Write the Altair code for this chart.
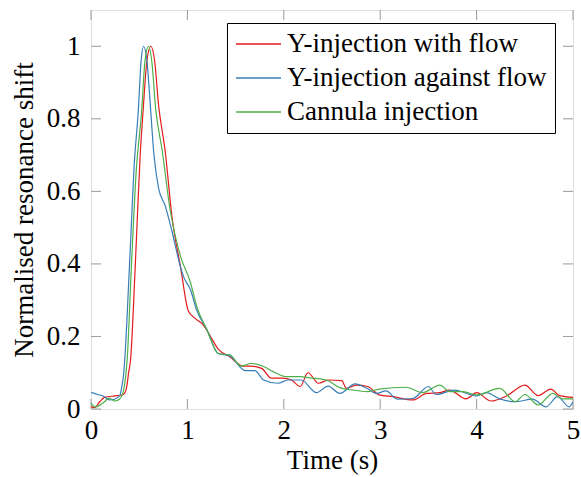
import altair as alt
import pandas as pd

# ---- data ----
series_names = ["Y-injection with flow", "Y-injection against flow", "Cannula injection"]
series_colors = ["#e41a1c", "#377eb8", "#4daf4a"]

red_t = [0, 0.04, 0.09, 0.14, 0.245, 0.315, 0.35, 0.37, 0.39, 0.41, 0.46, 0.51, 0.54, 0.58, 0.62, 0.66,
         0.70, 0.77, 0.84, 0.93,
         1.01, 1.08, 1.17, 1.24, 1.32, 1.44, 1.58, 1.66, 1.77, 1.87, 1.99, 2.08, 2.17, 2.25, 2.36,
         2.46, 2.60, 2.65, 2.75, 2.87, 2.99, 3.13, 3.34, 3.48, 3.62, 3.72, 3.89, 4.0, 4.15, 4.31,
         4.50, 4.64, 4.77, 4.86, 5.0]
red_v = [0.006, 0.004, 0.02, 0.032, 0.036, 0.038, 0.044, 0.06, 0.10, 0.135, 0.40, 0.70, 0.82, 0.96, 1.0, 0.96,
         0.84, 0.71, 0.53, 0.39,
         0.27, 0.25, 0.23, 0.20, 0.165, 0.144, 0.118, 0.118, 0.112, 0.085, 0.085, 0.08, 0.062, 0.10, 0.071,
         0.08, 0.078, 0.057, 0.066, 0.062, 0.039, 0.034, 0.025, 0.043, 0.045, 0.052, 0.028, 0.045, 0.022, 0.036,
         0.066, 0.037, 0.055, 0.037, 0.032]

blue_t = [0, 0.07, 0.125, 0.19, 0.245, 0.30, 0.32, 0.34, 0.35, 0.40, 0.45, 0.49, 0.52, 0.545, 0.58,
          0.62, 0.65, 0.70, 0.77, 0.84, 0.93,
          0.96, 1.03, 1.10, 1.20, 1.32, 1.44, 1.60, 1.70, 1.79, 1.94, 2.04, 2.18, 2.34, 2.46, 2.58,
          2.74, 2.86, 2.96, 3.06, 3.18, 3.34, 3.50, 3.58, 3.77, 4.0, 4.10, 4.24, 4.40, 4.58, 4.72,
          4.84, 4.96, 5.0]
blue_v = [0.046, 0.04, 0.036, 0.025, 0.027, 0.038, 0.062, 0.10, 0.135, 0.40, 0.68, 0.82, 0.96, 1.0, 0.96,
          0.82, 0.71, 0.61, 0.56, 0.49, 0.39,
          0.365, 0.33, 0.27, 0.22, 0.153, 0.146, 0.106, 0.106, 0.08, 0.071, 0.08, 0.08, 0.045, 0.063, 0.043,
          0.069, 0.057, 0.043, 0.05, 0.027, 0.029, 0.062, 0.04, 0.052, 0.036, 0.045, 0.028, 0.02, 0.027, 0.006,
          0.034, 0.006, 0.02]

green_t = [0, 0.04, 0.09, 0.14, 0.19, 0.245, 0.295, 0.33, 0.355, 0.375, 0.42, 0.47, 0.525, 0.56, 0.595,
           0.63, 0.67, 0.74, 0.82, 0.93,
           1.03, 1.10, 1.20, 1.32, 1.44, 1.56, 1.66, 1.79, 1.89, 2.03, 2.17, 2.27, 2.44, 2.58, 2.72,
           2.87, 2.99, 3.27, 3.44, 3.62, 3.72, 3.86, 4.0, 4.24, 4.40, 4.50, 4.64, 4.79, 4.89, 5.0]
green_v = [0.017, 0.006, 0.01, 0.02, 0.03, 0.022, 0.027, 0.043, 0.08, 0.135, 0.40, 0.66, 0.82, 0.96, 1.0,
           0.96, 0.83, 0.71, 0.55, 0.42,
           0.35, 0.28, 0.22, 0.153, 0.149, 0.118, 0.126, 0.117, 0.103, 0.089, 0.089, 0.086, 0.08, 0.059, 0.052,
           0.048, 0.055, 0.06, 0.045, 0.066, 0.048, 0.048, 0.039, 0.057, 0.02, 0.04, 0.011, 0.043, 0.028, 0.028]

x_ticks = [0, 1, 2, 3, 4, 5]
y_ticks = [0, 0.2, 0.4, 0.6, 0.8, 1.0]

rows = []
for name, ts, vs in zip(series_names, [red_t, blue_t, green_t], [red_v, blue_v, green_v]):
    for t, v in zip(ts, vs):
        rows.append({"series": name, "t": t, "v": v})
df = pd.DataFrame(rows)

W, H = 482, 399
FONT = "Liberation Serif"
FS = 27

xscale = alt.Scale(domain=[0, 5], nice=False, zero=False)
yscale = alt.Scale(domain=[0, 1.1], nice=False, zero=False)

xaxis = alt.Axis(values=x_ticks, format="d", title="Time (s)", grid=False, domain=False, ticks=False,
                 tickSize=0, labelFlush=False, labelPadding=8, labelFontSize=FS, labelFont=FONT,
                 labelColor="black", titleFont=FONT, titleFontSize=FS, titleFontWeight="normal",
                 titleColor="black", titleBaseline="alphabetic", titleY=59)
yaxis = alt.Axis(values=y_ticks, format="~g", title="Normalised resonance shift", grid=False, domain=False,
                 ticks=False, tickSize=0, labelPadding=11, labelFontSize=FS, labelFont=FONT,
                 labelColor="black", titleFont=FONT, titleFontSize=FS, titleFontWeight="normal",
                 titleColor="black", titleBaseline="alphabetic", titleX=-59)

lines = alt.Chart(df).mark_line(strokeWidth=1.2, interpolate="monotone", clip=True).encode(
    x=alt.X("t:Q", scale=xscale, axis=xaxis),
    y=alt.Y("v:Q", scale=yscale, axis=yaxis),
    color=alt.Color("series:N", sort=series_names,
                    scale=alt.Scale(domain=series_names, range=series_colors),
                    legend=alt.Legend(title=None, orient="none", legendX=136, legendY=13,
                                      symbolType="stroke", symbolSize=2025, symbolStrokeWidth=1.5,
                                      labelFont=FONT, labelFontSize=FS, labelColor="black",
                                      labelLimit=500, labelOffset=5, rowPadding=7, padding=8,
                                      clipHeight=26,
                                      fillColor="white", strokeColor="black")),
    detail="series:N",
)

xt = pd.DataFrame({"t": x_ticks})
yt = pd.DataFrame({"v": y_ticks})
tick_col = "#9a9a9a"
xb = alt.Chart(xt).mark_rule(color=tick_col, strokeWidth=1).encode(
    x=alt.X("t:Q", scale=xscale, axis=xaxis), y=alt.value(H), y2=alt.value(H - 10))
xtop = alt.Chart(xt).mark_rule(color=tick_col, strokeWidth=1).encode(
    x=alt.X("t:Q", scale=xscale, axis=xaxis), y=alt.value(0), y2=alt.value(10))
yl = alt.Chart(yt).mark_rule(color=tick_col, strokeWidth=1).encode(
    y=alt.Y("v:Q", scale=yscale, axis=yaxis), x=alt.value(0), x2=alt.value(10))
yr = alt.Chart(yt).mark_rule(color=tick_col, strokeWidth=1).encode(
    y=alt.Y("v:Q", scale=yscale, axis=yaxis), x=alt.value(W), x2=alt.value(W - 10))

chart = alt.layer(xb, xtop, yl, yr, lines).properties(
    width=W, height=H,
    autosize=alt.AutoSizeParams(type="none"),
    padding={"left": 91, "top": 10, "right": 8, "bottom": 68},
).configure_view(stroke="#333333", strokeWidth=1.2).configure(background="white")

chart.save("out.html", embed_options={"renderer": "svg", "actions": False})
